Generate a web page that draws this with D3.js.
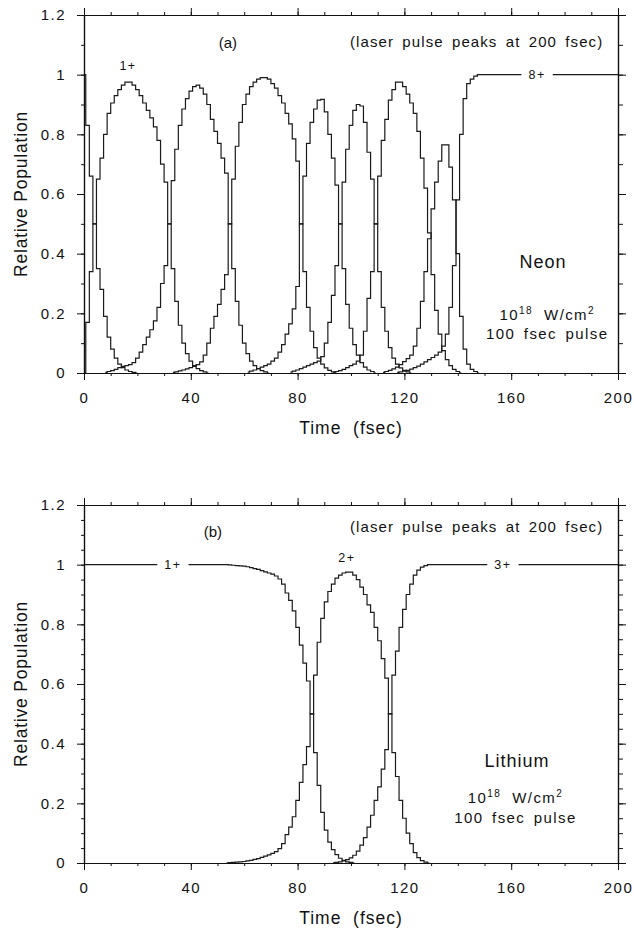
<!DOCTYPE html>
<html>
<head>
<meta charset="utf-8">
<script src="https://cdn.jsdelivr.net/npm/d3@7/dist/d3.min.js"></script>
<style>
body { margin: 0; background: #fff; }
text { font-family: "Liberation Sans", Arial, Helvetica, sans-serif; fill: #111; }
</style>
</head>
<body>
<div id="plot"></div>
<script>
var width = 634;
var height = 930;

// populations are sampled every half laser cycle (fsec)
var STEP = 4 / 3;

// Neon, 10^18 W/cm2 : charge states 0..8+, [first sample index, values]
var neonStart = [0, 0, 6, 25, 46, 58, 70, 84, 88];
var neon0 = [1.00, 0.83, 0.66, 0.50, 0.35, 0.28, 0.19, 0.12, 0.08, 0.05, 0.03, 0.018, 0.01, 0.005, 0.002, 0];
var neon1 = [0, .17, .34, .50, .65, .72, .80, .87, .905, .93, .95, .965, .975, .975, .965, .95, .93, .905, .88, .855,
             .825, .78, .70, .64, .50, .35, .24, .16, .10, .065, .04, .025, .015, .008, .004, 0];
var neon2 = [.002, .005, .008, .012, .018, .022, .025, .028, .035, .05, .07, .095, .12, .145, .175, .22, .30, .36, .50, .645,
             .75, .83, .885, .92, .945, .96, .965, .955, .935, .90, .85, .81, .77, .72, .67, .50, .35, .24, .16, .10,
             .065, .04, .025, .015, .008, .004, 0];
var neon3 = [.002, .004, .007, .01, .014, .018, .022, .028, .037, .06, .10, .15, .19, .23, .28, .33, .50, .65, .76, .84,
             .90, .935, .96, .975, .985, .99, .99, .985, .97, .955, .93, .905, .87, .835, .785, .71, .50, .34, .22, .14,
             .085, .05, .03, .017, .009, .004, 0];
var neon4 = [.003, .006, .01, .015, .02, .025, .03, .04, .05, .07, .095, .13, .165, .215, .29, .50, .66, .77, .84, .885,
             .915, .917, .875, .80, .72, .63, .50, .35, .23, .15, .095, .06, .035, .02, .01, .005, 0];
var neon5 = [.003, .006, .01, .015, .02, .025, .03, .035, .04, .055, .10, .17, .26, .36, .50, .64, .75, .83, .88, .90,
             .895, .84, .74, .65, .50, .34, .22, .14, .085, .05, .03, .017, .009, .004, 0];
var neon6 = [.002, .005, .008, .012, .018, .025, .03, .04, .06, .14, .25, .34, .50, .66, .78, .85, .915, .95, .975, .975,
             .96, .935, .905, .87, .81, .72, .62, .47, .33, .21, .13, .075, .045, .025, .012, .005, 0];
var neon7 = [.002, .005, .009, .014, .02, .028, .038, .048, .06, .09, .15, .24, .34, .45, .55, .64, .71, .765, .765, .69,
             .58, .40, .19, .08, .03, .012, .005, 0];
var neon8 = [.002, .004, .006, .009, .013, .018, .023, .03, .037, .045, .052, .06, .07, .09, .13, .22, .36, .58, .80, .92,
             .97, .985, .995, 1.0];
var neon8Tail = [[200, 1]];

// Lithium, 10^18 W/cm2 : charge states 1+..3+
var liStart = [40, 40, 70];
var li1Lead = [[0, 1]];
var li1 = [1.0, .999, .998, .997, .996, .995, .993, .99, .987, .984, .98, .976, .972, .968, .962, .952, .935, .905, .88, .845,
           .79, .73, .67, .61, .50, .37, .26, .17, .11, .07, .045, .028, .016, .009, .004, .002, 0];
var li2 = [0, .001, .002, .003, .004, .005, .007, .009, .012, .015, .019, .023, .027, .032, .038, .048, .065, .095, .12, .155,
           .21, .27, .33, .39, .50, .63, .74, .82, .875, .91, .935, .955, .965, .972, .975, .975, .965, .95, .925, .90,
           .865, .84, .79, .745, .685, .62, .50, .37, .29, .21, .15, .10, .065, .035, .018, .008, .003, 0];
var li3 = [.001, .002, .004, .007, .011, .017, .026, .04, .06, .085, .12, .16, .21, .255, .315, .38, .50, .63, .71, .79,
           .85, .90, .935, .965, .982, .992, .997, 1.0];
var li3Tail = [[200, 1]];

// ticks
var xTicks = [0, 40, 80, 120, 160, 200];
var yTicks = [0, 0.2, 0.4, 0.6, 0.8, 1, 1.2];

// labels on curves: [text, time, population, sits on a flat line]
var neonTags = [['1+', 16.5, 1.03, false], ['8+', 169.7, 1.0, true]];
var liTags = [['1+', 33.3, 1.0, true], ['2+', 98.5, 1.022, false], ['3+', 156.9, 1.0, true]];

var canvas = d3.select('#plot')
    .append('svg')
    .attr('width', width)
    .attr('height', height);

var x = d3.scaleLinear().domain([0, 200]).range([84, 618]);

function seriesPoints(start, vals, lead, tail) {
    var pts = (lead || []).slice();
    vals.forEach(function(v, i) { pts.push([(start + i) * STEP, v]); });
    return pts.concat(tail || []);
}

function drawPanel(top, bottom, series, yMinorStep, tags, letter, gas) {
    var y = d3.scaleLinear().domain([0, 1.2]).range([bottom, top]);
    var g = canvas.append('g');

    var line = d3.line()
        .curve(d3.curveStep)
        .x(function(d) { return x(d[0]); })
        .y(function(d) { return y(d[1]); });

    g.selectAll('path.pop')
        .data(series)
        .enter()
        .append('path')
        .attr('class', 'pop')
        .attr('fill', 'none')
        .attr('stroke', '#1a1a1a')
        .attr('stroke-width', 1.2)
        .attr('d', line);

    // axes
    var xMinor = d3.range(0, 201, 10);
    var yMinor = d3.range(0, 1.2001, yMinorStep);
    var fmt = function(d) { return d === 0 ? '0' : d === 1 ? '1' : d.toFixed(1); };

    function styleAxis(sel) {
        sel.attr('font-family', '"Liberation Sans", Arial, sans-serif').attr('font-size', 15).attr('color', '#111');
        sel.select('.domain').attr('stroke-width', 1.2);
        sel.selectAll('text').attr('letter-spacing', 1.5);
    }

    g.append('g').attr('transform', 'translate(0,' + bottom + ')')
        .call(d3.axisBottom(x).tickValues(xMinor).tickSize(3).tickSizeOuter(0).tickFormat(''))
        .call(styleAxis);
    g.append('g').attr('transform', 'translate(0,' + bottom + ')')
        .call(d3.axisBottom(x).tickValues(xTicks).tickSize(7).tickPadding(12).tickSizeOuter(0))
        .call(styleAxis);
    g.append('g').attr('transform', 'translate(0,' + top + ')')
        .call(d3.axisTop(x).tickValues(xMinor).tickSize(3).tickSizeOuter(0).tickFormat(''))
        .call(styleAxis);
    g.append('g').attr('transform', 'translate(0,' + top + ')')
        .call(d3.axisTop(x).tickValues(xTicks).tickSize(7).tickSizeOuter(0).tickFormat(''))
        .call(styleAxis);
    g.append('g').attr('transform', 'translate(' + x(0) + ',0)')
        .call(d3.axisLeft(y).tickValues(yMinor).tickSize(3).tickSizeOuter(0).tickFormat(''))
        .call(styleAxis);
    g.append('g').attr('transform', 'translate(' + x(0) + ',0)')
        .call(d3.axisLeft(y).tickValues(yTicks).tickSize(7).tickPadding(11).tickSizeOuter(0).tickFormat(fmt))
        .call(styleAxis);
    g.append('g').attr('transform', 'translate(' + x(200) + ',0)')
        .call(d3.axisRight(y).tickValues(yMinor).tickSize(5).tickSizeOuter(0).tickFormat(''))
        .call(styleAxis);
    g.append('g').attr('transform', 'translate(' + x(200) + ',0)')
        .call(d3.axisRight(y).tickValues(yTicks).tickSize(8).tickSizeOuter(0).tickFormat(''))
        .call(styleAxis);

    // axis titles
    g.append('text')
        .attr('transform', 'translate(27,' + ((top + bottom) / 2) + ') rotate(-90)')
        .attr('text-anchor', 'middle')
        .attr('font-size', 17.5)
        .attr('letter-spacing', 0.8)
        .text('Relative Population');
    g.append('text')
        .attr('x', (x(0) + x(200)) / 2)
        .attr('y', bottom + 61)
        .attr('text-anchor', 'middle')
        .attr('font-size', 17.5)
        .attr('letter-spacing', 1)
        .style('white-space', 'pre')
        .text('Time  (fsec)');

    // curve tags, with a gap cut in the line behind them
    tags.forEach(function(t) {
        var gap = g.append('rect').attr('fill', '#fff');
        var txt = g.append('text')
            .attr('x', x(t[1]))
            .attr('y', y(t[2]))
            .attr('dy', '0.35em')
            .attr('text-anchor', 'middle')
            .attr('font-size', 12.5)
            .attr('letter-spacing', 1.5)
            .text(t[0]);
        if (t[3]) {
            var b = txt.node().getBBox();
            gap.attr('x', b.x - 7).attr('y', b.y)
                .attr('width', b.width + 14).attr('height', b.height);
        } else {
            gap.remove();
        }
    });

    // panel annotations
    g.append('text')
        .attr('x', x(letter[1])).attr('y', y(letter[2]))
        .attr('text-anchor', 'middle')
        .attr('font-size', 15)
        .text(letter[0]);
    g.append('text')
        .attr('x', x(194.5)).attr('y', y(letter[3]))
        .attr('text-anchor', 'end')
        .attr('font-size', 15)
        .attr('letter-spacing', 1.1)
        .attr('word-spacing', 3)
        .text('(laser pulse peaks at 200 fsec)');
    g.append('text')
        .attr('x', x(gas[1])).attr('y', y(gas[2]))
        .attr('text-anchor', 'middle')
        .attr('font-size', 18)
        .attr('letter-spacing', 1)
        .text(gas[0]);
    var inten = g.append('text')
        .attr('x', x(gas[3])).attr('y', y(gas[4]))
        .attr('text-anchor', 'middle')
        .attr('font-size', 15)
        .attr('letter-spacing', 1.4);
    inten.append('tspan').text('10');
    inten.append('tspan').attr('dy', -6).attr('font-size', 10).text('18');
    inten.append('tspan').attr('dy', 6).style('white-space', 'pre').text('  W/cm');
    inten.append('tspan').attr('dy', -6).attr('font-size', 10).text('2');
    g.append('text')
        .attr('x', x(gas[3])).attr('y', y(gas[5]))
        .attr('text-anchor', 'middle')
        .attr('font-size', 15)
        .attr('letter-spacing', 1.4)
        .attr('word-spacing', 3)
        .text('100 fsec pulse');
}

var neonSeries = [neon0, neon1, neon2, neon3, neon4, neon5, neon6, neon7, neon8].map(function(v, i) {
    return seriesPoints(neonStart[i], v, null, i === 8 ? neon8Tail : null);
});
var liSeries = [
    seriesPoints(liStart[0], li1, li1Lead, null),
    seriesPoints(liStart[1], li2, null, null),
    seriesPoints(liStart[2], li3, null, li3Tail)
];

drawPanel(15, 373, neonSeries, 0.1, neonTags, ['(a)', 53.9, 1.09, 1.093], ['Neon', 171.9, 0.352, 173.5, 0.178, 0.114]);
drawPanel(505, 863, liSeries, 0.05, liTags, ['(b)', 48.3, 1.093, 1.11], ['Lithium', 162.2, 0.322, 161.6, 0.201, 0.134]);
</script>
</body>
</html>
